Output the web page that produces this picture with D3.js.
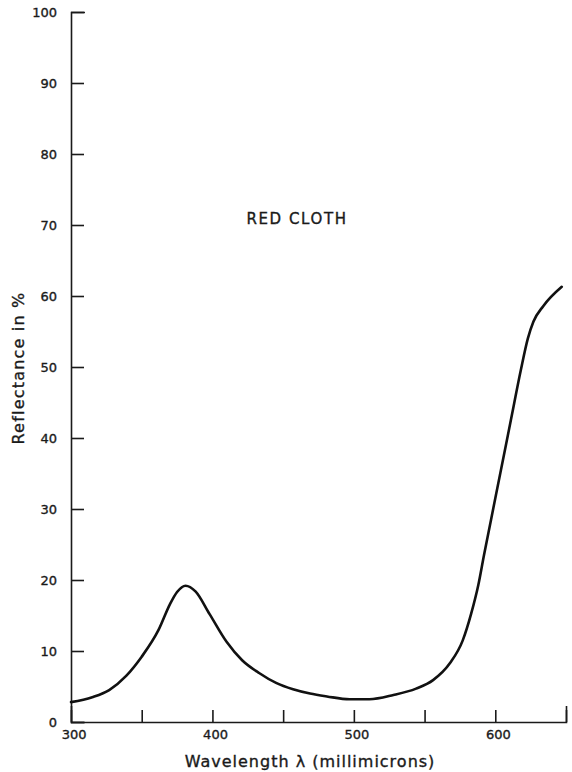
<!DOCTYPE html>
<html>
<head>
<meta charset="utf-8">
<script src="https://cdn.jsdelivr.net/npm/d3@7"></script>
<style>
	body { margin: 0; background: #fff; }
	text { font-family: "DejaVu Sans", sans-serif; fill: #1a1a1a; stroke: #1a1a1a; stroke-width: 0.35; }
	.axis path, .axis line { stroke: #1a1a1a; stroke-width: 1.6; }
</style>
</head>
<body>
<div id="chart"></div>
<script>

// values
var wavelength = [300, 315, 327, 339, 350, 362, 370, 375, 381, 388, 398, 410, 421, 433, 445, 457, 469, 481, 497, 511,
	528, 544, 556, 568, 577, 583, 588, 592, 597, 604, 611, 618, 623, 627, 634, 647];
var reflectance = [2.8, 3.5, 4.5, 6.5, 9.2, 13.0, 16.6, 18.3, 19.2, 18.4, 15.2, 11.3, 8.7, 6.9, 5.5, 4.6, 4.0, 3.6, 3.2, 3.2,
	3.8, 4.7, 5.9, 8.3, 11.5, 15.3, 19.3, 23.5, 28.5, 35.5, 42.5, 49.5, 54.0, 56.4, 58.6, 61.3];

var xTicks = [300, 350, 400, 450, 500, 550, 600, 650];
var xLabels = [300, 400, 500, 600];
var yTicks = [0, 10, 20, 30, 40, 50, 60, 70, 80, 90, 100];

var width = 572, height = 772;

var x = d3.scaleLinear().domain([300, 650]).range([71, 566]);
var y = d3.scaleLinear().domain([0, 100]).range([722, 12]);

var svg = d3.select("#chart")
	.append("svg")
	.attr("width", width)
	.attr("height", height);

svg.append("g")
	.attr("class", "axis")
	.attr("transform", "translate(0," + y(0) + ")")
	.call(d3.axisBottom(x)
		.tickValues(xTicks)
		.tickSizeInner(-12)
		.tickSizeOuter(-16)
		.tickPadding(8)
		.tickFormat(function(d) { return xLabels.indexOf(d) >= 0 ? d : ""; }))
	.call(function(g) {
		g.selectAll("text").attr("font-size", 13).attr("dx", "0.2em");
	});

svg.append("g")
	.attr("class", "axis")
	.attr("transform", "translate(" + x(300) + ",0)")
	.call(d3.axisLeft(y)
		.tickValues(yTicks)
		.tickSizeInner(-13)
		.tickSizeOuter(-14)
		.tickPadding(14))
	.call(function(g) {
		g.selectAll("text").attr("font-size", 13);
	});

var line = d3.line()
	.x(function(d, i) { return x(wavelength[i]); })
	.y(function(d) { return y(d); })
	.curve(d3.curveMonotoneX);

svg.append("path")
	.datum(reflectance)
	.attr("d", line)
	.attr("fill", "none")
	.attr("stroke", "#111")
	.attr("stroke-width", 2.6)
	.attr("stroke-linecap", "round");

svg.append("text")
	.attr("x", 297)
	.attr("y", 224)
	.attr("text-anchor", "middle")
	.attr("font-size", 15)
	.attr("letter-spacing", 1.6)
	.text("RED CLOTH");

svg.append("text")
	.attr("x", 310)
	.attr("y", 767)
	.attr("text-anchor", "middle")
	.attr("font-size", 16)
	.attr("letter-spacing", 1)
	.text("Wavelength \u03bb (millimicrons)");

svg.append("text")
	.attr("transform", "translate(24,368) rotate(-90)")
	.attr("text-anchor", "middle")
	.attr("font-size", 16)
	.attr("letter-spacing", 1.2)
	.text("Reflectance in %");

</script>
</body>
</html>
